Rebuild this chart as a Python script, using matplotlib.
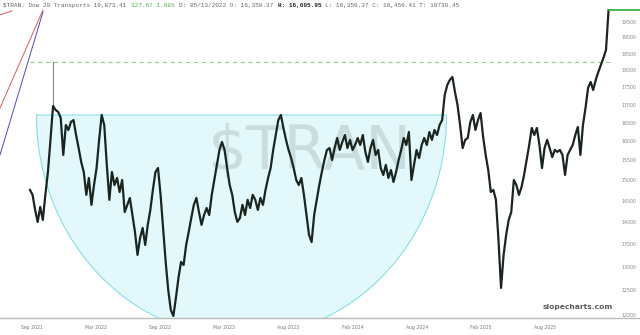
import numpy as np
import matplotlib
matplotlib.use('Agg')
import matplotlib.pyplot as plt
from matplotlib.patches import Polygon
from matplotlib.lines import Line2D

# weekly closes, $TRAN, late Aug 2021 -> early 2026
closes = [
    14760, 14640, 14280, 13998, 14350, 14045, 14640, 15205, 16035, 16960,
    16850, 16795, 16630, 15640, 16435, 16300, 16517, 16570, 16165, 15820,
    15460, 15205, 14640, 15055, 14400, 14880, 15305, 16035, 16710, 16435,
    15385, 14520, 15205, 14880, 15055, 14710, 15005, 14230, 14400, 14565,
    14160, 13770, 13255, 13630, 13860, 13475, 13930, 14280, 14760, 15205,
    15305, 14640, 13860, 13100, 12505, 12100, 11980, 12345, 12760, 13100,
    13035, 13475, 13770, 14090, 14400, 14565, 14230, 13930, 14160, 14325,
    14160, 14640, 15005, 15385, 15770, 15980, 15770, 15305, 14880, 14640,
    14230, 14000, 14090, 14400, 14160, 14520, 14325, 14640, 14520, 14280,
    14565, 14400, 14760, 15055, 15305, 15770, 16165, 16570, 16710, 16355,
    16035, 15770, 15560, 15305, 15005, 14880, 15055, 14640, 14160, 13700,
    13540, 14160, 14520, 14880, 15205, 15510, 15770, 15820, 15510, 15820,
    16085, 15770, 15980, 16165, 15820, 16035, 15770, 15900, 16085, 15900,
    16165, 15720, 15460, 15820, 16035, 15640, 15770, 15305, 15130, 15385,
    15055, 15255, 14955, 15205, 15510, 15770, 16085, 15900, 16245, 15005,
    15385, 15770, 15560, 15900, 16085, 15900, 16245, 16035, 16300, 16165,
    16435, 16570, 17275, 17560, 17710, 17795, 17360, 16990, 16435, 15820,
    16035, 16085, 16515, 16710, 16300, 16570, 16765, 16115, 15640, 15255,
    14710, 14760, 14520, 13585, 12550, 13255, 13700, 14045, 14230, 15005,
    14880, 14640, 14830, 15130, 15510, 15900, 16355, 16165, 16355, 15900,
    15305, 15820, 16035, 15820, 15585, 15770, 15720, 15770, 15640, 15130,
    15640, 15770, 15900, 16165, 16380, 15640, 16435, 16905, 17475, 17650,
    17415, 17710, 17945, 18155, 18365, 18610, 19873,
]
spike_week = 9
spike_high = 18244
last_price = 19873.41

x_labels = ['Sep 2021', 'Mar 2022', 'Sep 2022', 'Mar 2023', 'Aug 2023',
            'Feb 2024', 'Aug 2024', 'Feb 2025', 'Aug 2025']
y_ticks = list(range(12000, 20000, 500))

W, H = 640, 335
fig = plt.figure(figsize=(6.4, 3.35), dpi=100)
ax = fig.add_axes([0, 17 / H, 612 / W, 318 / H])
ax.set_facecolor('white')

px = 2.56  # pixels per week
x0 = -30 / px
x1 = (612 - 30) / px
ax.set_xlim(x0, x1)
ax.set_yscale('log')
ax.set_ylim(11940, 20214)

def fx(xpix):
    return x0 + xpix / px

# cup / arc shading (half ellipse, in axes fraction)
cx, a, top, b = 241.5, 205, 115, 222
t = np.linspace(np.pi, 2 * np.pi, 200)
ex = (cx + a * np.cos(t)) / 612
ey = (318 - (top - b * np.sin(t))) / 318
arc = Polygon(np.column_stack([ex, ey]), closed=True, transform=ax.transAxes,
              facecolor='#e2f8fa', edgecolor='#86e0e6', lw=0.8, zorder=1)
ax.add_patch(arc)

# watermark
ax.text(310 / 612, (318 - 152) / 318, '$TRAN', transform=ax.transAxes,
        ha='center', va='center', fontsize=44, color='#000000', alpha=0.11,
        zorder=1.5)

# dashed resistance at the spike high
ax.plot([fx(30), x1], [spike_high, spike_high], color='#8fcf8f', lw=0.8,
        ls=(0, (4, 3)), zorder=2)
ax.plot([spike_week, spike_week], [closes[spike_week], spike_high],
        color='#888888', lw=0.8, zorder=2)

# trend lines, top left
ax.plot([fx(0), fx(43)], [16905, 19883], color='#e05a5a', lw=0.7, zorder=2)
ax.plot([fx(0), fx(12)], [19725, 19850], color='#e05a5a', lw=0.7, zorder=2)
ax.plot([fx(0), fx(43)], [15640, 19820], color='#4b4bcc', lw=0.7, zorder=2)

xs = np.arange(len(closes))
ax.plot(xs, closes, color='#1a2520', lw=1.6, zorder=3)

# last price line
ax.plot([xs[-1], x1 + 28 / px], [last_price, last_price], color='#3fae49',
        lw=1.3, zorder=4, clip_on=False)

ax.yaxis.tick_right()
ax.set_yticks(y_ticks)
ax.set_yticklabels([str(v) for v in y_ticks])
ax.yaxis.set_minor_locator(matplotlib.ticker.NullLocator())
ax.tick_params(axis='y', length=0, pad=7, labelsize=3.4, labelcolor='#888888')

tick_pos = 0.8 + 25.05 * np.arange(len(x_labels))
ax.set_xticks(tick_pos)
ax.set_xticklabels(x_labels)
ax.tick_params(axis='x', length=0, pad=5, labelsize=3.3, labelcolor='#777788')

for s in ax.spines.values():
    s.set_visible(False)

fig.add_artist(Line2D([0, 1], [17 / H, 17 / H], color='#bbbbbb', lw=1.0))

# header
cw = 3.66
segs = [
    ('$TRAN: Dow 20 Transports 19,873.41 ', '#666666', 'normal'),
    ('327.67 1.68% ', '#4caf50', 'normal'),
    ('D: 05/13/2022 O: 16,359.37 ', '#666666', 'normal'),
    ('H: 16,695.95 ', '#222222', 'bold'),
    ('L: 16,359.37 C: 16,456.41 T: 19739.45', '#666666', 'normal'),
]
pos = 3
for txt, col, wt in segs:
    fig.text(pos / W, 1 - 5.5 / H, txt, family='Liberation Mono', fontsize=4.4,
             color=col, weight=wt, ha='left', va='center')
    pos += len(txt) * cw

fig.text(578 / W, 1 - 307 / H, 'slopecharts.com', fontsize=5.4,
         weight='bold', color='#5a5a5a', ha='center', va='center')

fig.savefig('out.png', dpi=100)
